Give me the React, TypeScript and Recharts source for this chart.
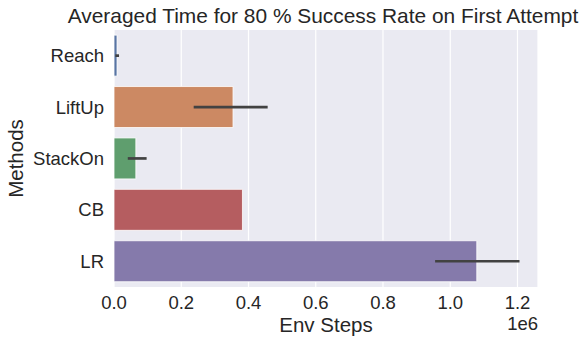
import { Bar, BarChart, CartesianGrid, Cell, ErrorBar, Label, XAxis, YAxis } from "recharts";

const methods = ["Reach", "LiftUp", "StackOn", "CB", "LR"];
const avgSteps = [9000, 354000, 65000, 382000, 1079000];
// error bar extents (lower, upper) as offsets from the mean
const errLow = [5000, 117000, 24000, 0, 124000];
const errHigh = [6000, 103000, 32000, 0, 127000];
const barColors = ["#5975a4", "#cc8963", "#5f9e6e", "#b55d60", "#857aab"];
const xTicks = [0, 200000, 400000, 600000, 800000, 1000000, 1200000];

const FONT = "'Liberation Sans', Arial, sans-serif";
const TEXT = "#262626";

const data = methods.map((m, i) => ({
  method: m,
  steps: avgSteps[i],
  err: [errLow[i], errHigh[i]],
}));

export default function App() {
  return (
    <div style={{ position: "absolute", left: 0, top: 0, width: 579, height: 338, background: "#fff", fontFamily: FONT }}>
      <BarChart
        width={579}
        height={338}
        data={data}
        layout="vertical"
        margin={{ top: 30, right: 41, left: 0, bottom: 0 }}
        barCategoryGap="10%"
      >
        <CartesianGrid fill="#eaeaf2" stroke="#ffffff" strokeWidth={1.2} horizontal={false} vertical />
        <XAxis
          type="number"
          domain={[0, 1261000]}
          ticks={xTicks}
          allowDataOverflow
          height={51}
          tickLine={false}
          axisLine={false}
          tickSize={0}
          tickMargin={9}
          tick={{ fill: TEXT, fontSize: 18.5, fontFamily: FONT }}
          tickFormatter={(v) => (Number(v) / 1e6).toFixed(1)}
        >
          <Label
            content={(props: any) => {
              const vb = props?.viewBox;
              if (!vb) return null;
              return (
                <g>
                  <text x={vb.x + vb.width / 2} y={vb.y + 40} textAnchor="middle" dominantBaseline="middle" fill={TEXT} fontSize={20.5} fontFamily={FONT}>
                    Env Steps
                  </text>
                  <text x={vb.x + vb.width} y={vb.y + 38} textAnchor="end" dominantBaseline="middle" fill={TEXT} fontSize={18.5} fontFamily={FONT}>
                    1e6
                  </text>
                </g>
              );
            }}
          />
        </XAxis>
        <YAxis
          type="category"
          dataKey="method"
          width={114}
          tickLine={false}
          axisLine={false}
          tickSize={0}
          tickMargin={10}
          tick={{ fill: TEXT, fontSize: 18.5, fontFamily: FONT }}
        >
          <Label
            content={(props: any) => {
              const vb = props?.viewBox;
              if (!vb) return null;
              const cy = vb.y + vb.height / 2;
              return (
                <text x={18} y={cy} transform={`rotate(-90 18 ${cy})`} textAnchor="middle" dominantBaseline="middle" fill={TEXT} fontSize={20.5} fontFamily={FONT}>
                  Methods
                </text>
              );
            }}
          />
        </YAxis>
        <Bar dataKey="steps" isAnimationActive={false} stroke="#ffffff" strokeWidth={0.8}>
          {data.map((d, i) => (
            <Cell key={d.method} fill={barColors[i]} />
          ))}
          <ErrorBar dataKey="err" direction="x" width={0} stroke="#424242" strokeWidth={2.7} isAnimationActive={false} />
        </Bar>
      </BarChart>
      <div
        style={{
          position: "absolute",
          left: 63,
          width: 520,
          top: 4,
          textAlign: "center",
          whiteSpace: "nowrap",
          fontSize: 20.9,
          lineHeight: "23px",
          color: TEXT,
          fontFamily: FONT,
        }}
      >
        Averaged Time for 80 % Success Rate on First Attempt
      </div>
    </div>
  );
}
